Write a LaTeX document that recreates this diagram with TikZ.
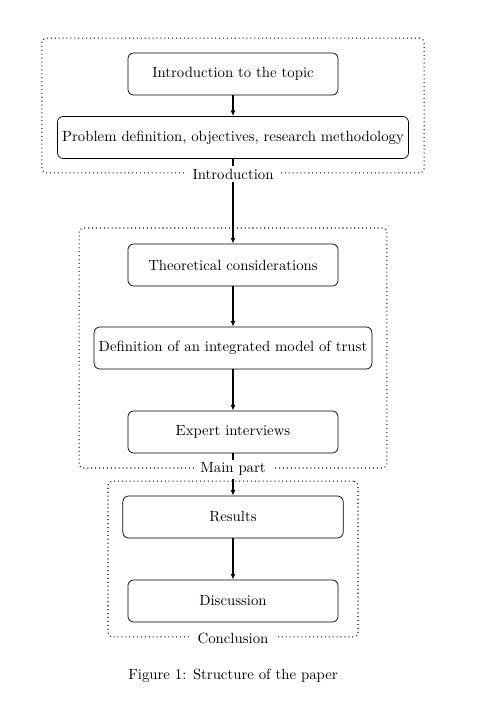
\documentclass[tikz,border=0pt]{standalone}
\usetikzlibrary{arrows.meta}
\begin{document}
\begin{tikzpicture}[x=0.69pt,y=-0.69pt,
  font=\fontsize{10.2pt}{12.2pt}\selectfont,
  stepbox/.style={draw, line width=0.5pt, rounded corners=4pt, minimum width=145pt, minimum height=29pt, inner xsep=3.2pt},
  groupbox/.style={draw, dotted, line width=0.7pt, rounded corners=3pt, inner sep=0pt},
  grouplabel/.style={fill=white, inner xsep=4.5pt, inner ysep=2pt},
  flow/.style={line width=0.9pt, -{Latex[length=4pt,width=3.5pt]}}]
\useasboundingbox (0,0) rectangle (494,717);
% group containers
\node[groupbox, minimum width=263.6pt, minimum height=93.1pt] (g1) at (233,105.5) {};
\node[groupbox, minimum width=212.5pt, minimum height=165.6pt] (g2) at (233,348) {};
\node[groupbox, minimum width=172.5pt, minimum height=107.6pt] (g3) at (233,559) {};
% steps
\node[stepbox] (intro) at (233,74) {Introduction to the topic};
\node[stepbox] (prob) at (233,137.5) {Problem definition, objectives, research methodology};
\node[stepbox] (theo) at (233,265) {Theoretical considerations};
\node[stepbox] (def) at (233,348) {Definition of an integrated model of trust};
\node[stepbox] (exp) at (233,432) {Expert interviews};
\node[stepbox, minimum width=152pt] (res) at (233,517) {Results};
\node[stepbox] (disc) at (233,601) {Discussion};
% arrows
\draw[flow] (intro) -- (prob);
\draw[flow] (prob) -- (theo);
\draw[flow] (theo) -- (def);
\draw[flow] (def) -- (exp);
\draw[flow] (exp) -- (res);
\draw[flow] (res) -- (disc);
% group labels
\node[grouplabel] (l1) at ([yshift=-0.6pt]g1.south) {Introduction};
\node[grouplabel] (l2) at ([yshift=-0.6pt]g2.south) {Main part};
\node[grouplabel] (l3) at ([yshift=-0.6pt]g3.south) {Conclusion};
% caption
\node (cap) at (233,676) {Figure 1: Structure of the paper};
\end{tikzpicture}
\end{document}
